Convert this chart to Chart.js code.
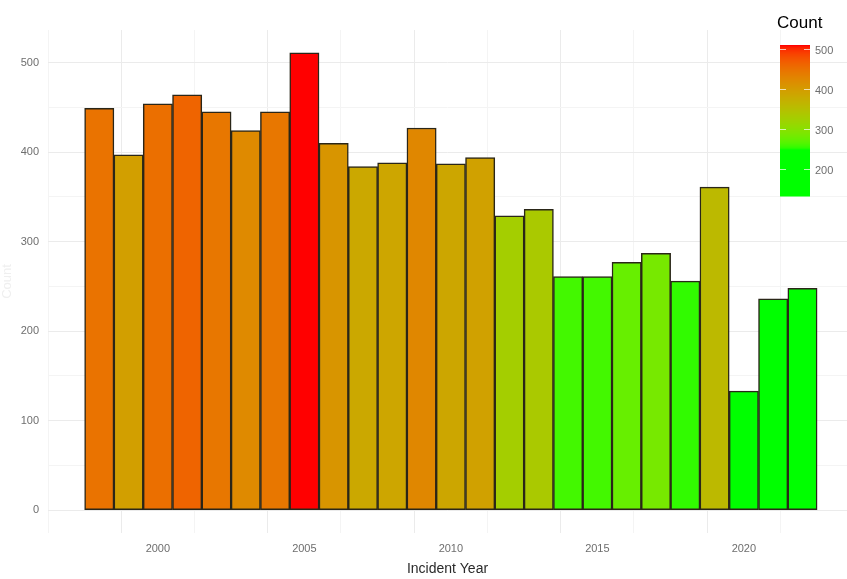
<!DOCTYPE html>
<html>
<head>
<meta charset="utf-8">
<script src="https://cdn.jsdelivr.net/npm/chart.js@4/dist/chart.umd.min.js"></script>
<style>
html,body{margin:0;padding:0;background:#fff}
#wrap{width:847px;height:579px;position:relative}
</style>
</head>
<body>
<div id="wrap"><canvas id="myChart" width="847" height="579"></canvas></div>
<script>

const years =
[1998,1999,2000,2001,2002,2003,2004,2005,2006,2007,2008,2009,2010,
2011,2012,2013,2014,2015,2016,2017,2018,2019,2020,2021,2022]

const counts =
[449,397,454,464,445,424,445,511,410,384,388,427,387,
394,329,336,261,261,277,287,256,361,133,236,248]

const yTicks = [0,100,200,300,400,500]
const xTicks = [2000,2005,2010,2015,2020]
const legendTicks = [200,300,400,500]

// colour scale low = green, high = red, mixed in Lab like ggplot does
function lin(c){
c = c/255
return c <= 0.04045 ? c/12.92 : Math.pow((c+0.055)/1.055,2.4)
}
function unlin(c){
const v = c <= 0.0031308 ? 12.92*c : 1.055*Math.pow(c,1/2.4)-0.055
return Math.round(Math.min(1,Math.max(0,v))*255)
}
function f(t){ return t > 0.008856 ? Math.cbrt(t) : 7.787*t+16/116 }
function finv(t){ const t3 = t*t*t; return t3 > 0.008856 ? t3 : (t-16/116)/7.787 }

function toLab(rgb){
const r = lin(rgb[0]), g = lin(rgb[1]), b = lin(rgb[2])
const X = (0.4124*r+0.3576*g+0.1805*b)/0.95047
const Y = 0.2126*r+0.7152*g+0.0722*b
const Z = (0.0193*r+0.1192*g+0.9505*b)/1.08883
return [116*f(Y)-16, 500*(f(X)-f(Y)), 200*(f(Y)-f(Z))]
}
function fromLab(lab){
const fy = (lab[0]+16)/116
const fx = fy+lab[1]/500
const fz = fy-lab[2]/200
const X = finv(fx)*0.95047, Y = finv(fy), Z = finv(fz)*1.08883
const r = 3.2406*X-1.5372*Y-0.4986*Z
const g = -0.9689*X+1.8758*Y+0.0415*Z
const b = 0.0557*X-0.2040*Y+1.0570*Z
return "rgb("+unlin(r)+","+unlin(g)+","+unlin(b)+")"
}

const lowLab = toLab([0,255,0])
const highLab = toLab([255,0,0])
const cMin = Math.min(...counts)
const cMax = Math.max(...counts)
// everything under this stays plain green
const greenFloor = 250

function colourFor(v){
const t = Math.max(0,(v-greenFloor)/(cMax-greenFloor))
return fromLab([0,1,2].map(i=>lowLab[i]+(highLab[i]-lowLab[i])*t))
}

function gridColour(c, isMajor){
if(!c.tick) return "#ebebeb"
return isMajor(c.tick.value) ? "#ebebeb" : "#f4f4f4"
}

// colour bar drawn by hand, ggplot style
const colourBar = {
id:"colourBar",
afterDraw(chart){
const ctx = chart.ctx
const x0 = 780, w = 30, top = 45, bottom = 196
const yOf = v => bottom-(v-cMin)/(cMax-cMin)*(bottom-top)
ctx.save()
for(let y=top; y<bottom; y++){
const v = cMax-(y-top)/(bottom-top)*(cMax-cMin)
ctx.fillStyle = colourFor(v)
ctx.fillRect(x0,y,w,1.5)
}
ctx.strokeStyle = "rgba(255,255,255,0.7)"
ctx.lineWidth = 1
legendTicks.forEach(v=>{
const y = Math.round(yOf(v))+0.5
ctx.beginPath(); ctx.moveTo(x0,y); ctx.lineTo(x0+6,y); ctx.stroke()
ctx.beginPath(); ctx.moveTo(x0+w-6,y); ctx.lineTo(x0+w,y); ctx.stroke()
})
ctx.fillStyle = "#6e6e6e"
ctx.font = "11px 'Liberation Sans', Arial, sans-serif"
ctx.textAlign = "left"
ctx.textBaseline = "middle"
legendTicks.forEach(v=>{
ctx.fillText(String(v), x0+w+5, yOf(v)+2)
})
ctx.fillStyle = "#000"
ctx.font = "17px 'Liberation Sans', Arial, sans-serif"
ctx.fillText("Count", 777, 23)
ctx.restore()
}
}

const points = years.map((y,i)=>({x:y,y:counts[i]}))

new Chart(

document.getElementById("myChart"),

{

type:"bar",

data:{

datasets:[{

label:"Count",

data:points,

backgroundColor:counts.map(colourFor),

borderColor:"#2a2618",

borderWidth:1.5,

borderSkipped:false,

barPercentage:1,

categoryPercentage:1

}]

},

options:{

responsive:false,

animation:false,

layout:{padding:{top:30,right:0,left:0,bottom:0}},

plugins:{legend:{display:false},tooltip:{enabled:false}},

scales:{

x:{

type:"linear",

min:1996.25,

max:2023.52,

offset:false,

border:{display:false},

grid:{

drawTicks:false,

color:c=>gridColour(c, v=>Number.isInteger(v)),

lineWidth:1

},

afterBuildTicks:s=>{

const t = []
for(let v=1997.5; v<=2022.5; v+=2.5) t.push({value:v})
s.ticks = t

},

afterFit:s=>{ s.height = 46 },

ticks:{

padding:9,

autoSkip:false,

maxRotation:0,

color:"#6e6e6e",

font:{size:11,family:"'Liberation Sans', Arial, sans-serif"},

callback:v=>xTicks.includes(v) ? String(v) : ""

},

title:{

display:true,

text:"Incident Year",

color:"#2a2a2a",

font:{size:14,family:"'Liberation Sans', Arial, sans-serif"},

padding:{top:0,bottom:1}

}

},

y:{

min:-25.5,

max:536.5,

border:{display:false},

grid:{

drawTicks:false,

color:c=>gridColour(c, v=>v%100===0),

lineWidth:1

},

afterBuildTicks:s=>{

const t = []
for(let v=0; v<=500; v+=50) t.push({value:v})
s.ticks = t

},

afterFit:s=>{ s.width = 48 },

ticks:{

padding:9,

color:"#6e6e6e",

font:{size:11,family:"'Liberation Sans', Arial, sans-serif"},

callback:v=>yTicks.includes(v) ? String(v) : ""

},

title:{

display:true,

text:"Count",

color:"#efefef",

font:{size:13,family:"'Liberation Sans', Arial, sans-serif"},

padding:{top:0,bottom:2}

}

}

}

},

plugins:[colourBar]

})

</script>
</body>
</html>
